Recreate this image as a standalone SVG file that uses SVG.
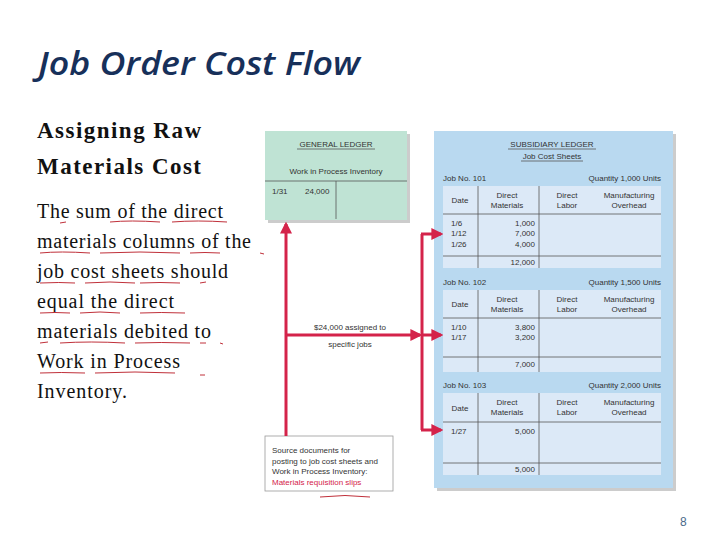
<svg xmlns="http://www.w3.org/2000/svg" width="720" height="540" viewBox="0 0 720 540">
<defs>
<marker id="ah" viewBox="0 0 10 10" refX="8" refY="5" markerWidth="4" markerHeight="4" orient="auto"><path d="M0,0 L10,5 L0,10 z" fill="#d4234a"/></marker>
</defs>
<style>
.s{font-family:"Liberation Sans",Arial,sans-serif;font-size:8px;fill:#333}
.c{text-anchor:middle}
.r{text-anchor:end}
.body{font-family:"Liberation Serif","Times New Roman",serif;font-size:20px;fill:#111}
.red{stroke:#d4234a;stroke-width:3;fill:none}
.ul{stroke:#c0303a;stroke-width:1;fill:none}
.tl{stroke:#555;stroke-width:0.8}
.tab{fill:#dce9f7}
</style>
<rect width="720" height="540" fill="#fff"/>
<text x="38" y="75" font-family="Open Sans,Liberation Sans,sans-serif" font-style="italic" font-weight="600" font-size="32" textLength="322" lengthAdjust="spacingAndGlyphs" fill="#17305a">Job Order Cost Flow</text>
<g class="body">
<text x="37" y="138" font-size="23" font-weight="bold" textLength="164">Assigning Raw</text>
<text x="37" y="174" font-size="23" font-weight="bold" textLength="164">Materials Cost</text>
<text x="37" y="218" textLength="186">The sum of the direct</text>
<text x="37" y="248" textLength="214">materials columns of the</text>
<text x="37" y="278" textLength="191">job cost sheets should</text>
<text x="37" y="308" textLength="137">equal the direct</text>
<text x="37" y="338" textLength="174">materials debited to</text>
<text x="37" y="368" textLength="143">Work in Process</text>
<text x="37" y="398" textLength="90">Inventory.</text>
</g>
<g class="ul">
<path d="M60,223 l6,-1 M110,222 q20,-2 50,0 M172,222 q25,-2 55,0"/>
<path d="M40,253 q20,-2 50,0 M100,253 q40,-2 80,0 M190,253 q15,-1 30,0 M260,253 l4,1"/>
<path d="M40,283 q20,-1 35,0 M85,283 q25,-2 50,0 M140,283 q20,-1 40,0 M200,283 l6,-1"/>
<path d="M40,313 q15,-1 30,0 M80,313 q20,-2 40,0 M140,313 q20,-1 45,0"/>
<path d="M40,343 l8,-1 M60,343 q30,-2 65,0 M135,343 q25,-1 55,0 M200,343 l6,0 M220,343 l3,1"/>
<path d="M40,373 q20,-1 45,0 M95,373 q40,-2 80,0 M200,375 l5,0"/>
<path d="M320,497 q25,-3 50,0"/>
</g>
<g id="general-ledger">
<rect x="268" y="134" width="142" height="89" fill="#ccc"/>
<rect x="265" y="131" width="142" height="89" fill="#bfe3d4"/>
<text class="s c" x="336" y="147">GENERAL LEDGER</text>
<line x1="297" y1="149" x2="375" y2="149" class="tl"/>
<text class="s c" x="336" y="174">Work in Process Inventory</text>
<line x1="265" y1="181" x2="407" y2="181" class="tl"/>
<line x1="336" y1="181" x2="336" y2="219" class="tl"/>
<text class="s" x="272" y="194">1/31</text>
<text class="s" x="305" y="194">24,000</text>
</g>
<g id="subsidiary-ledger">
<rect x="437" y="134" width="239" height="357" fill="#ccc"/>
<rect x="434" y="131" width="239" height="357" fill="#b9d9f0"/>
<text class="s c" x="552" y="147">SUBSIDIARY LEDGER</text>
<line x1="508" y1="149" x2="596" y2="149" class="tl"/>
<text class="s c" x="552" y="159">Job Cost Sheets</text>
<line x1="521" y1="161" x2="583" y2="161" class="tl"/>
</g>
<g id="job-101">
<text class="s" x="443" y="181">Job No. 101</text><text class="s r" x="661" y="181">Quantity 1,000 Units</text>
<rect class="tab" x="443" y="186" width="218" height="82"/>
<line x1="443" y1="214" x2="661" y2="214" class="tl"/><line x1="443" y1="256" x2="661" y2="256" class="tl"/>
<line x1="478" y1="186" x2="478" y2="268" class="tl"/><line x1="539" y1="186" x2="539" y2="268" class="tl"/>
<text class="s c" x="460" y="203">Date</text><text class="s c" x="507" y="198">Direct</text><text class="s c" x="507" y="208">Materials</text>
<text class="s c" x="567" y="198">Direct</text><text class="s c" x="567" y="208">Labor</text>
<text class="s c" x="629" y="198">Manufacturing</text><text class="s c" x="629" y="208">Overhead</text>
<text class="s" x="451" y="226">1/6</text><text class="s r" x="535" y="226">1,000</text>
<text class="s" x="451" y="236">1/12</text><text class="s r" x="535" y="236">7,000</text>
<text class="s" x="451" y="247">1/26</text><text class="s r" x="535" y="247">4,000</text>
<text class="s r" x="535" y="265">12,000</text>
</g>
<g id="job-102">
<text class="s" x="443" y="285">Job No. 102</text><text class="s r" x="661" y="285">Quantity 1,500 Units</text>
<rect class="tab" x="443" y="290" width="218" height="82"/>
<line x1="443" y1="318" x2="661" y2="318" class="tl"/><line x1="443" y1="357" x2="661" y2="357" class="tl"/>
<line x1="478" y1="290" x2="478" y2="372" class="tl"/><line x1="539" y1="290" x2="539" y2="372" class="tl"/>
<text class="s c" x="460" y="307">Date</text><text class="s c" x="507" y="302">Direct</text><text class="s c" x="507" y="312">Materials</text>
<text class="s c" x="567" y="302">Direct</text><text class="s c" x="567" y="312">Labor</text>
<text class="s c" x="629" y="302">Manufacturing</text><text class="s c" x="629" y="312">Overhead</text>
<text class="s" x="451" y="330">1/10</text><text class="s r" x="535" y="330">3,800</text>
<text class="s" x="451" y="340">1/17</text><text class="s r" x="535" y="340">3,200</text>
<text class="s r" x="535" y="367">7,000</text>
</g>
<g id="job-103">
<text class="s" x="443" y="388">Job No. 103</text><text class="s r" x="661" y="388">Quantity 2,000 Units</text>
<rect class="tab" x="443" y="393" width="218" height="82"/>
<line x1="443" y1="422" x2="661" y2="422" class="tl"/><line x1="443" y1="463" x2="661" y2="463" class="tl"/>
<line x1="478" y1="393" x2="478" y2="475" class="tl"/><line x1="539" y1="393" x2="539" y2="475" class="tl"/>
<text class="s c" x="460" y="411">Date</text><text class="s c" x="507" y="405">Direct</text><text class="s c" x="507" y="415">Materials</text>
<text class="s c" x="567" y="405">Direct</text><text class="s c" x="567" y="415">Labor</text>
<text class="s c" x="629" y="405">Manufacturing</text><text class="s c" x="629" y="415">Overhead</text>
<text class="s" x="451" y="434">1/27</text><text class="s r" x="535" y="434">5,000</text>
<text class="s r" x="535" y="472">5,000</text>
</g>
<g id="source-docs">
<rect x="265" y="436" width="128" height="55" fill="#fff" stroke="#999" stroke-width="0.8"/>
<text class="s" x="272" y="453">Source documents for</text>
<text class="s" x="272" y="464">posting to job cost sheets and</text>
<text class="s" x="272" y="474">Work in Process Inventory:</text>
<text class="s" x="272" y="485" style="fill:#d4234a">Materials requisition slips</text>
</g>
<g id="connectors">
<path class="red" d="M286,436 V224" marker-end="url(#ah)"/>
<path class="red" d="M286,335 H420" marker-end="url(#ah)"/>
<path class="red" d="M422,234 V430"/>
<path class="red" d="M421,234 H441" marker-end="url(#ah)"/>
<path class="red" d="M421,335 H441" marker-end="url(#ah)"/>
<path class="red" d="M421,430 H441" marker-end="url(#ah)"/>
<text class="s c" x="350" y="330">$24,000 assigned to</text>
<text class="s c" x="350" y="347">specific jobs</text>
</g>
<text x="680" y="526" font-family="Liberation Sans,sans-serif" font-size="12" fill="#4a6a8a">8</text>
</svg>
